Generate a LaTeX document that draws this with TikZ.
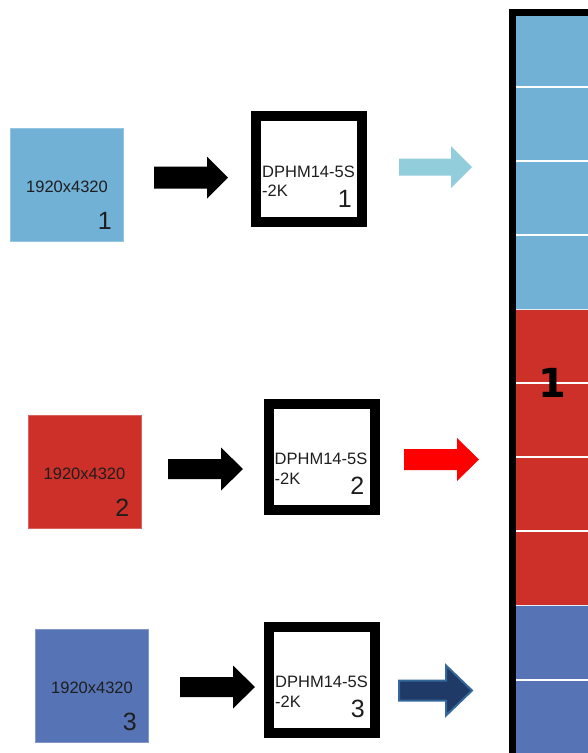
\documentclass[tikz,border=0pt]{standalone}
\usepackage{fontspec}
\setmainfont{Liberation Sans}
\newfontfamily\dejavu{DejaVu Sans}
\definecolor{lb}{HTML}{71B1D6}
\definecolor{rd}{HTML}{CC3029}
\definecolor{db}{HTML}{5674B5}
\definecolor{arlb}{HTML}{92CDDC}
\definecolor{arrd}{HTML}{FF0000}
\definecolor{navy}{HTML}{1F3A66}
\definecolor{navyedge}{HTML}{34679A}
\definecolor{txtc}{HTML}{1E1E1E}
\newcommand\blockarrow[7]{%
  \path[#1] (#2,#5-#6) -- (#4,#5-#6) -- (#4,#5-#7) -- (#3,#5) -- (#4,#5+#7) -- (#4,#5+#6) -- (#2,#5+#6) -- cycle;}
\begin{document}
\begin{tikzpicture}[x=1pt,y=-1pt,
  sq/.style={minimum size=113pt,inner sep=0,draw=#1!75!white,fill=#1,line width=1pt},
  srcbox/.style={minimum size=106pt,inner sep=0,draw=black,line width=10pt,fill=white},
  small/.style={inner sep=0,font=\fontsize{16.5}{16.5}\selectfont,text=txtc},
  num/.style={inner sep=0,font=\fontsize{25}{25}\selectfont,text=txtc}]
\useasboundingbox (0,0) rectangle (588,753);
% column
\fill[black] (509,9) rectangle (600,760);
\fill[lb] (516,16) rectangle (600,309);
\fill[rd] (516,309) rectangle (600,605);
\fill[db] (516,605) rectangle (600,760);
\foreach \yy in {87,161,235,383,457,531,680}
  \draw[white,line width=1.5pt] (516,\yy) -- (600,\yy);
\foreach \yy in {309,605}
  \draw[white!80!lb,line width=1pt] (516,\yy) -- (600,\yy);
\node[inner sep=0,font=\dejavu\bfseries\fontsize{40}{40}\selectfont] (col) at (552,383) {1};
% squares
\node[sq=lb] (s1) at (67,185) {};
\node[sq=rd] (s2) at (84.5,472) {};
\node[sq=db] (s3) at (92,686) {};
\foreach \s/\n in {s1/1,s2/2,s3/3}{
  \node[small,anchor=base] (\s r) at ([shift={(0,7.5)}]\s.center) {1920x4320};
  \node[num,anchor=base east] (\s n) at ([shift={(45,44)}]\s.center) {\n};
}
% boxes
\node[srcbox] (b1) at (309,169) {};
\node[srcbox] (b2) at (321.5,456.5) {};
\node[srcbox] (b3) at (322,679.5) {};
\foreach \b/\n in {b1/1,b2/2,b3/3}{
  \node[small,anchor=base west] (\b t1) at ([shift={(-47,8)}]\b.center) {DPHM14-5S};
  \node[small,anchor=base west] (\b t2) at ([shift={(-47,27.5)}]\b.center) {-2K};
  \node[num,anchor=base east] (\b n) at ([shift={(43,38)}]\b.center) {\n};
}
% black arrows
\blockarrow{fill=black}{154}{228}{207}{177.5}{11}{21}
\blockarrow{fill=black}{168}{243}{221}{469}{10}{21.5}
\blockarrow{fill=black}{180}{255}{233}{687}{10}{21.5}
% coloured arrows
\blockarrow{fill=arlb}{399}{472}{451}{167}{8.5}{21}
\blockarrow{fill=arrd}{404}{479}{457}{459.5}{10.5}{21.5}
\blockarrow{fill=navy,draw=navyedge,line width=2pt}{399}{472}{446}{690.5}{10}{25}
\end{tikzpicture}
\end{document}
